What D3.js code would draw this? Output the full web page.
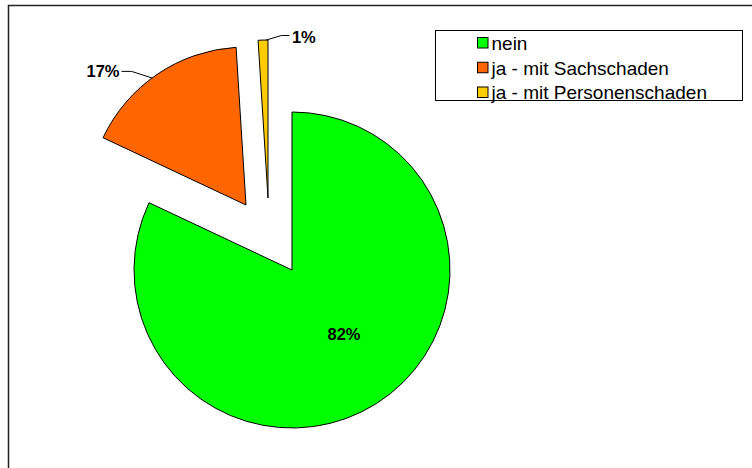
<!DOCTYPE html>
<html>
<head>
<meta charset="utf-8">
<script src="https://cdn.jsdelivr.net/npm/d3@7/dist/d3.min.js"></script>
<style>
  html, body { margin: 0; padding: 0; background: #fff; }
  svg { display: block; font-family: Arial, "Liberation Sans", sans-serif; }
</style>
</head>
<body>
<svg id="chart" width="752" height="468"></svg>
<script>
// Unfall in den letzten Jahren? – Anteile in Prozent
const categories = ["nein", "ja - mit Sachschaden", "ja - mit Personenschaden"];
const values = [82, 17, 1];
const colors = ["#00ff00", "#ff6600", "#ffcc00"];
const valueLabels = ["82%", "17%", "1%"];

const svg = d3.select("#chart");

// outer chart frame (runs off the right and bottom edge)
svg.append("rect")
  .attr("x", 8.5).attr("y", 5.5)
  .attr("width", 800).attr("height", 500)
  .attr("fill", "#fff")
  .attr("stroke", "#222").attr("stroke-width", 1.5);

const cx = 292, cy = 270, R = 158;

const pie = d3.pie().sort(null).value(d => d);
const arcs = pie(values);
const arc = d3.arc().innerRadius(0).outerRadius(R);

// how far each slice is pulled out of the pie
const explode = [[0, 0], [-46, -65], [-24, -72]];

const g = svg.append("g").attr("transform", `translate(${cx},${cy})`);

const slices = g.selectAll("g.slice")
  .data(arcs)
  .join("g")
  .attr("class", "slice")
  .attr("transform", (d, i) => `translate(${explode[i][0]},${explode[i][1]})`);

slices.append("path")
  .attr("d", arc)
  .attr("fill", (d, i) => colors[i])
  .attr("stroke", "#000")
  .attr("stroke-width", 1)
  .attr("stroke-linejoin", "miter");

// point on the outer rim of slice i at angle a
function rimPoint(i, a, r) {
  return [explode[i][0] + r * Math.sin(a), explode[i][1] - r * Math.cos(a)];
}

const line = d3.line();

// 82% – inside the big slice
{
  const d = arcs[0];
  const a = (d.startAngle + d.endAngle) / 2 - 0.12;
  const r = R * 0.52;
  g.append("text")
    .attr("x", r * Math.sin(a)).attr("y", -r * Math.cos(a))
    .attr("text-anchor", "middle").attr("dy", "0.36em")
    .attr("font-size", 16.5).attr("font-weight", "bold")
    .text(valueLabels[0]);
}

// 17% – outside with leader line
{
  const d = arcs[1];
  const p = rimPoint(1, (d.startAngle + d.endAngle) / 2 - 0.04, R);
  const pts = [p, [p[0] - 20.5, p[1] - 6.6], [p[0] - 30.5, p[1] - 6.6]];
  g.append("path").attr("d", line(pts))
    .attr("fill", "none").attr("stroke", "#000").attr("stroke-width", 1);
  g.append("text")
    .attr("x", pts[2][0] - 2).attr("y", pts[2][1])
    .attr("text-anchor", "end").attr("dy", "0.36em")
    .attr("font-size", 16.5).attr("font-weight", "bold")
    .text(valueLabels[1]);
}

// 1% – outside with leader line
{
  const d = arcs[2];
  const p = rimPoint(2, d.endAngle - 0.01, R);
  const pts = [p, [p[0] + 15, p[1] - 4.5], [p[0] + 23, p[1] - 4.5]];
  g.append("path").attr("d", line(pts))
    .attr("fill", "none").attr("stroke", "#000").attr("stroke-width", 1);
  g.append("text")
    .attr("x", pts[2][0] + 2.5).attr("y", pts[2][1] + 2)
    .attr("text-anchor", "start").attr("dy", "0.36em")
    .attr("font-size", 16.5).attr("font-weight", "bold")
    .text(valueLabels[2]);
}

// legend
const legend = svg.append("g").attr("transform", "translate(435.5,30.5)");
legend.append("rect")
  .attr("width", 307).attr("height", 70)
  .attr("fill", "#fff").attr("stroke", "#000").attr("stroke-width", 1);

const rowY = d3.scalePoint().domain(categories).range([12.5, 62]);

const items = legend.selectAll("g.item")
  .data(categories)
  .join("g")
  .attr("class", "item")
  .attr("transform", d => `translate(0,${rowY(d)})`);

items.append("rect")
  .attr("x", 42).attr("y", -5.5)
  .attr("width", 10.5).attr("height", 10.5)
  .attr("fill", (d, i) => colors[i])
  .attr("stroke", "#000").attr("stroke-width", 1);

items.append("text")
  .attr("x", 56).attr("y", 0)
  .attr("dy", "0.36em")
  .attr("font-size", 19)
  .text(d => d);
</script>
</body>
</html>
